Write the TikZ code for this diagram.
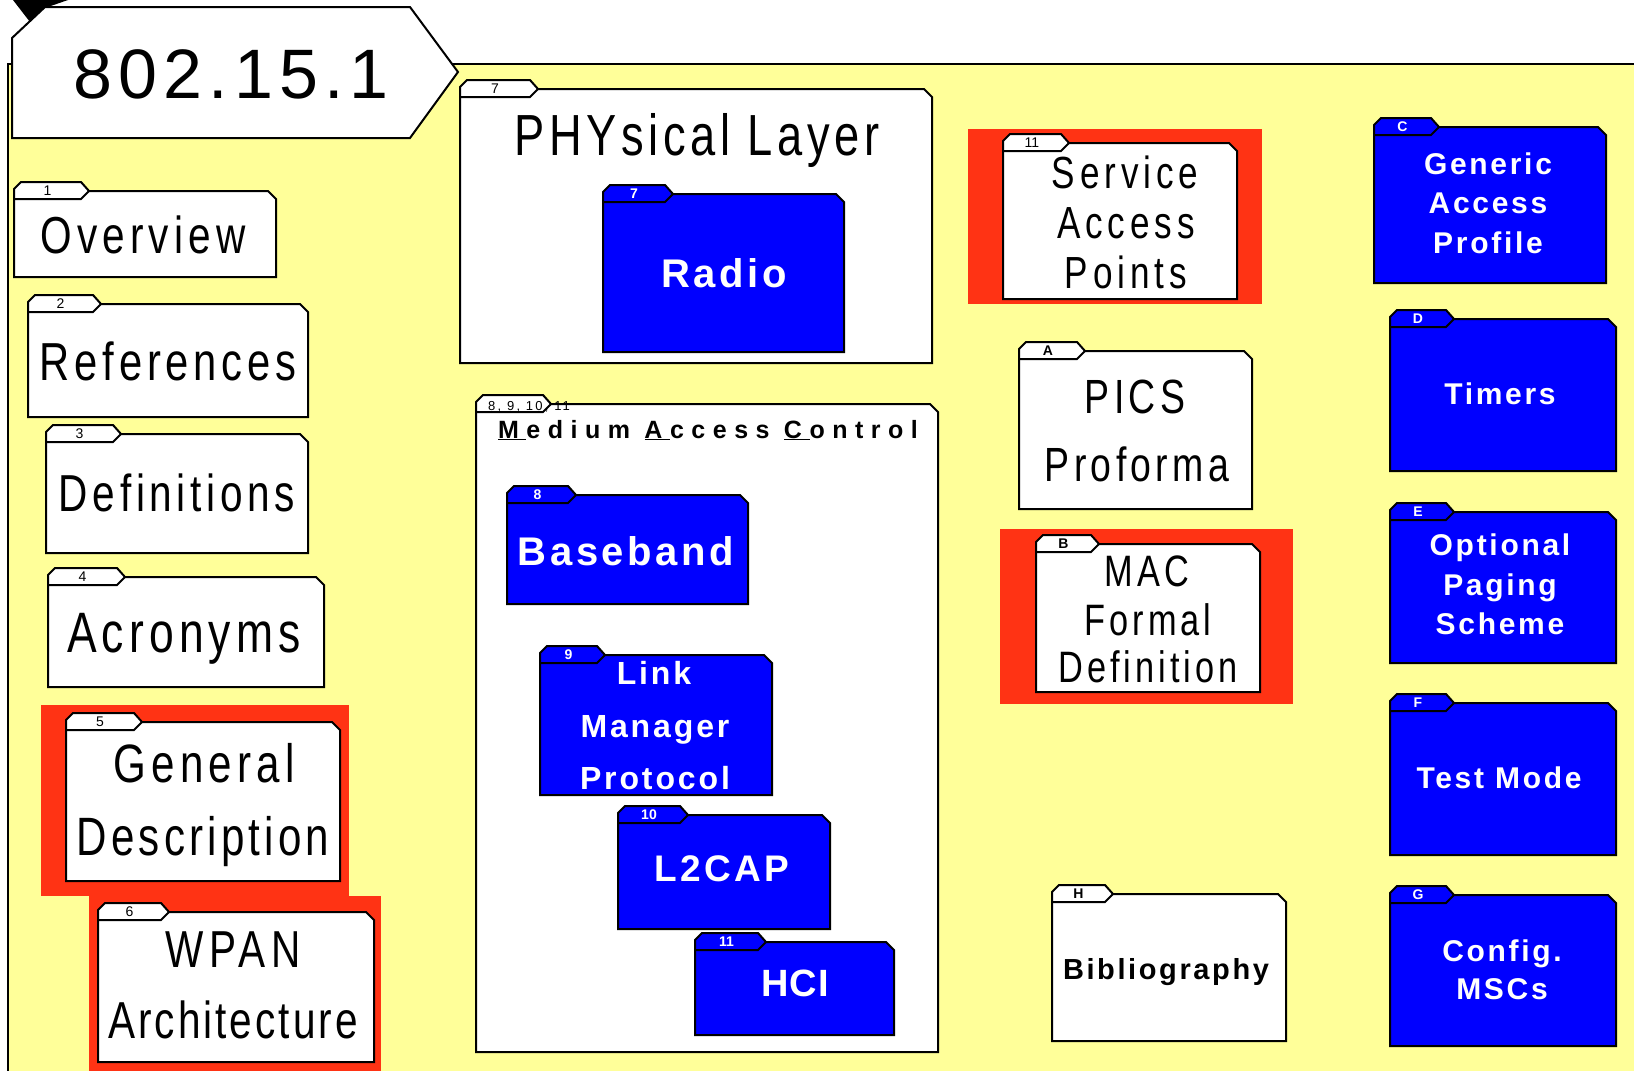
\documentclass[tikz,border=0pt]{standalone}
\usepackage{fontspec}
\setmainfont{Liberation Sans}
\newfontfamily\narf[FakeStretch=0.78]{Liberation Sans}
\definecolor{bgy}{RGB}{255,255,153}
\definecolor{hlred}{RGB}{255,51,20}
\definecolor{fblue}{RGB}{0,0,255}
\newcommand\nt[2]{\narf\fontsize{#1pt}{#1pt}\selectfont\addfontfeature{LetterSpace=#2}}
\newcommand\btx[2]{\bfseries\fontsize{#1pt}{#1pt}\selectfont\addfontfeature{LetterSpace=#2}}
\newcommand\ulk[1]{\underline{#1\kern7.5pt}}
\tikzset{
  wf/.style={draw=black, line width=2pt, fill=white},
  bf/.style={draw=black, line width=2pt, fill=fblue},
  wf tab/.style={inner sep=0pt, text=black, font=\fontsize{14pt}{14pt}\selectfont},
  bf tab/.style={inner sep=0pt, text=white, font=\bfseries\fontsize{14pt}{14pt}\selectfont},
  wt/.style={inner sep=0pt, text=black, anchor=base},
  bt/.style={inner sep=0pt, text=white, anchor=base},
  hl/.style={fill=hlred, draw=none},
}
% #1 name, #2 x1, #3 ytop, #4 x2, #5 ybot, #6 tab tip x, #7 kind, #8 label
\newcommand\folder[8]{%
  \draw[#7] (#2,#3) -- (#4-8,#3) -- (#4,#3+8) -- (#4,#5) -- (#2,#5) -- cycle;
  \draw[#7] (#2,#3+8) -- (#2,#3-2) -- (#2+7,#3-9) -- (#6-8,#3-9) -- (#6,#3) -- (#6-8,#3+8) -- cycle;
  \node[#7 tab] (#1) at ({(#2+#6-8)/2},#3) {#8};
}
\begin{document}
\begin{tikzpicture}[x=1pt, y=-1pt]
\useasboundingbox (0,0) rectangle (1634,1071);
\clip (0,0) rectangle (1634,1071);
\fill[white] (0,0) rectangle (1634,1071);
% yellow sheet
\draw[fill=bgy, line width=2pt] (8,64) rectangle (1660,1100);
% title
\fill[black] (13,0) -- (68,0) -- (45,8) -- (30,22) -- cycle;
\draw[wf] (12,38) -- (45,7) -- (410,7) -- (458,72) -- (410,138) -- (12,138) -- cycle;
\node[inner sep=0pt, anchor=base, font=\fontsize{70pt}{70pt}\selectfont\addfontfeature{LetterSpace=8.7}] (title) at (231,98) {802.15.1};

% left column
\folder{t1}{14}{191}{276}{277}{89}{wf}{1}
\node[wt, font=\nt{52}{10}] (ov) at (143,253) {Overview};
\folder{t2}{28}{304}{308}{417}{101}{wf}{2}
\node[wt, font=\nt{53.5}{9}] (refs) at (168,380) {References};
\folder{t3}{46}{434}{308}{553}{121}{wf}{3}
\node[wt, font=\nt{52}{9}] (defs) at (177,511) {Definitions};
\folder{t4}{48}{577}{324}{687}{125}{wf}{4}
\node[wt, font=\nt{57}{9}] (acr) at (184,652) {Acronyms};
\fill[hl] (41,705) rectangle (349,896);
\folder{t5}{66}{722}{340}{881}{142}{wf}{5}
\node[wt, font=\nt{54}{9.6}] (gd1) at (204,782) {General};
\node[wt, font=\nt{54}{7.7}] (gd2) at (203,855) {Description};
\fill[hl] (89,896) rectangle (381,1080);
\folder{t6}{98}{912}{374}{1062}{169}{wf}{6}
\node[wt, font=\nt{52}{10.4}] (wp1) at (233,967) {WPAN};
\node[wt, font=\nt{52}{5.8}] (wp2) at (233,1038) {Architecture};

% PHY
\folder{t7}{460}{89}{932}{363}{538}{wf}{7}
\node[wt, font=\nt{58}{7.9}] (phy) at (697,155) {PHYsical Layer};
\folder{t7r}{603}{194}{844}{352}{673}{bf}{7}
\node[bt, font=\btx{40}{9}] (radio) at (724,287) {Radio};

% MAC
\folder{t8}{476}{404}{938}{1052}{551}{wf}{}
\node[inner sep=0pt, anchor=base west, font=\fontsize{13pt}{13pt}\selectfont\addfontfeature{LetterSpace=17}] (t8l) at (488,410) {8, 9, 10, 11};
\node[wt, font=\btx{25}{30}] (mac) at (708,438) {\ulk{M}edium \ulk{A}ccess \ulk{C}ontrol};
\folder{t8b}{507}{495}{748}{604}{576}{bf}{8}
\node[bt, font=\btx{40}{9}] (bb) at (626,565) {Baseband};
\folder{t9}{540}{655}{772}{795}{605}{bf}{9}
\node[bt, font=\btx{32}{9}] (lm1) at (654,684) {Link};
\node[bt, font=\btx{32}{9}] (lm2) at (655,737) {Manager};
\node[bt, font=\btx{32}{9}] (lm3) at (655,789) {Protocol};
\folder{t10}{618}{815}{830}{929}{688}{bf}{10}
\node[bt, font=\btx{37}{9}] (l2) at (722,881) {L2CAP};
\folder{t11}{695}{942}{894}{1035}{766}{bf}{11}
\node[bt, font=\btx{38}{3}] (hci) at (795,996) {HCI};

% middle-right column
\fill[hl] (968,129) rectangle (1262,304);
\folder{tsap}{1003}{143}{1237}{299}{1069}{wf}{11}
\node[wt, font=\nt{45}{11}] (sap1) at (1125,188) {Service};
\node[wt, font=\nt{45}{11}] (sap2) at (1126,238) {Access};
\node[wt, font=\nt{45}{11}] (sap3) at (1126,288) {Points};
\folder{tA}{1019}{351}{1252}{509}{1085}{wf}{\bfseries A}
\node[wt, font=\nt{48}{9}] (pics1) at (1135,413) {PICS};
\node[wt, font=\nt{48}{9}] (pics2) at (1137,481) {Proforma};
\fill[hl] (1000,529) rectangle (1293,704);
\folder{tB}{1036}{544}{1260}{692}{1099}{wf}{\bfseries B}
\node[wt, font=\nt{44}{9}] (mfd1) at (1147,586) {MAC};
\node[wt, font=\nt{44}{9}] (mfd2) at (1148,635) {Formal};
\node[wt, font=\nt{44}{9}] (mfd3) at (1148,682) {Definition};
\folder{tH}{1052}{894}{1286}{1041}{1113}{wf}{\bfseries H}
\node[wt, font=\btx{29}{9}] (bib) at (1166,979) {Bibliography};

% right column
\folder{tC}{1374}{127}{1606}{283}{1439}{bf}{C}
\node[bt, font=\btx{30}{9}] (gap1) at (1488,174) {Generic};
\node[bt, font=\btx{30}{9}] (gap2) at (1488,213) {Access};
\node[bt, font=\btx{30}{9}] (gap3) at (1488,253) {Profile};
\folder{tD}{1390}{319}{1616}{471}{1454}{bf}{D}
\node[bt, font=\btx{30}{9}] (tim) at (1500,404) {Timers};
\folder{tE}{1390}{512}{1616}{663}{1454}{bf}{E}
\node[bt, font=\btx{30}{9}] (ops1) at (1500,555) {Optional};
\node[bt, font=\btx{30}{9}] (ops2) at (1500,595) {Paging};
\node[bt, font=\btx{30}{9}] (ops3) at (1500,634) {Scheme};
\folder{tF}{1390}{703}{1616}{855}{1454}{bf}{F}
\node[bt, font=\btx{30}{9}] (tm) at (1499,788) {Test Mode};
\folder{tG}{1390}{895}{1616}{1046}{1454}{bf}{G}
\node[bt, font=\btx{30}{9}] (cfg1) at (1502,961) {Config.};
\node[bt, font=\btx{30}{9}] (cfg2) at (1502,999) {MSCs};
\end{tikzpicture}
\end{document}
